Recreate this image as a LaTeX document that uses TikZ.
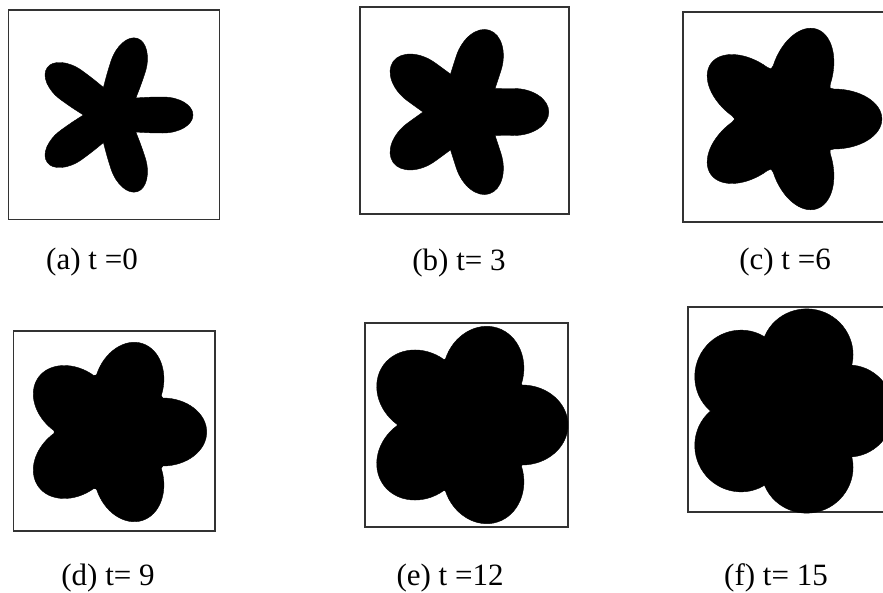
\documentclass[tikz,border=0pt]{standalone}
\usepackage{fontspec}
\setmainfont{Liberation Serif}
\tikzset{
  framebox/.style={draw=black!80, line width=1.1pt},
  petal/.style={fill=black, draw=black, line width=0.4pt, line join=round},
  stagelabel/.style={font=\fontsize{31}{33}\selectfont, inner sep=0pt}
}
% #1,#2 centre, #3 tip radius, #4 notch radius, #5 half width, #6 tip cap length
\newcommand{\flower}[6]{
  \pgfmathsetmacro{\nx}{#4*cos(36)}
  \pgfmathsetmacro{\ny}{#4*sin(36)}
  \pgfmathsetmacro{\sx}{#3-#6}
  \pgfmathsetmacro{\ca}{\nx+0.4*(\sx-\nx)}
  \pgfmathsetmacro{\cb}{\ny+0.7*(#5-\ny)}
  \pgfmathsetmacro{\cc}{\sx-0.4*(\sx-\nx)}
  \pgfmathsetmacro{\cd}{\sx+0.55*#6}
  \pgfmathsetmacro{\ce}{0.55*#5}
  \foreach \k in {0,...,4} {
    \fill[petal, shift={(#1,#2)}, rotate=\k*72]
      (\nx,-\ny)
      .. controls (\ca,-\cb) and (\cc,-#5) .. (\sx,-#5)
      .. controls (\cd,-#5) and (#3,-\ce) .. (#3,0)
      .. controls (#3,\ce) and (\cd,#5) .. (\sx,#5)
      .. controls (\cc,#5) and (\ca,\cb) .. (\nx,\ny) -- cycle;
  }
  % solid middle, so no seams show between the petals
  \fill[black] (#1,#2) circle [radius=#4];
}

\begin{document}
\begin{tikzpicture}[x=1pt, y=-1pt]
  \useasboundingbox (0,0) rectangle (883,592);
  \clip (0,0) rectangle (883,592);
  % top row
  \draw[framebox] (8.5,10) rectangle (219.5,219.5);
  \draw[framebox] (360,7) rectangle (569,214);
  \draw[framebox] (683,12) rectangle (900,222);
  \flower{112.4}{115}{80.6}{29}{18}{30}
  \flower{462.8}{112}{86}{39.8}{23.5}{35}
  \flower{787.4}{119}{94.5}{52.7}{30}{48}
  \node[stagelabel] (lblA) at (92,262) {(a) t =0};
  \node[stagelabel] (lblB) at (459,263) {(b) t= 3};
  \node[stagelabel] (lblC) at (785,262) {(c) t =6};
  % bottom row
  \draw[framebox] (13.5,331) rectangle (215,531);
  \draw[framebox] (365,323) rectangle (568,527);
  \draw[framebox] (688,307) rectangle (900,512);
  \flower{113.7}{432}{93}{59.7}{34}{44}
  \flower{466}{425}{102}{69}{40}{46}
  \flower{788.6}{411}{105}{76}{46}{45}
  \node[stagelabel] (lblD) at (108,578) {(d) t= 9};
  \node[stagelabel] (lblE) at (450,578) {(e) t =12};
  \node[stagelabel] (lblF) at (776,578) {(f) t= 15};
\end{tikzpicture}
\end{document}
